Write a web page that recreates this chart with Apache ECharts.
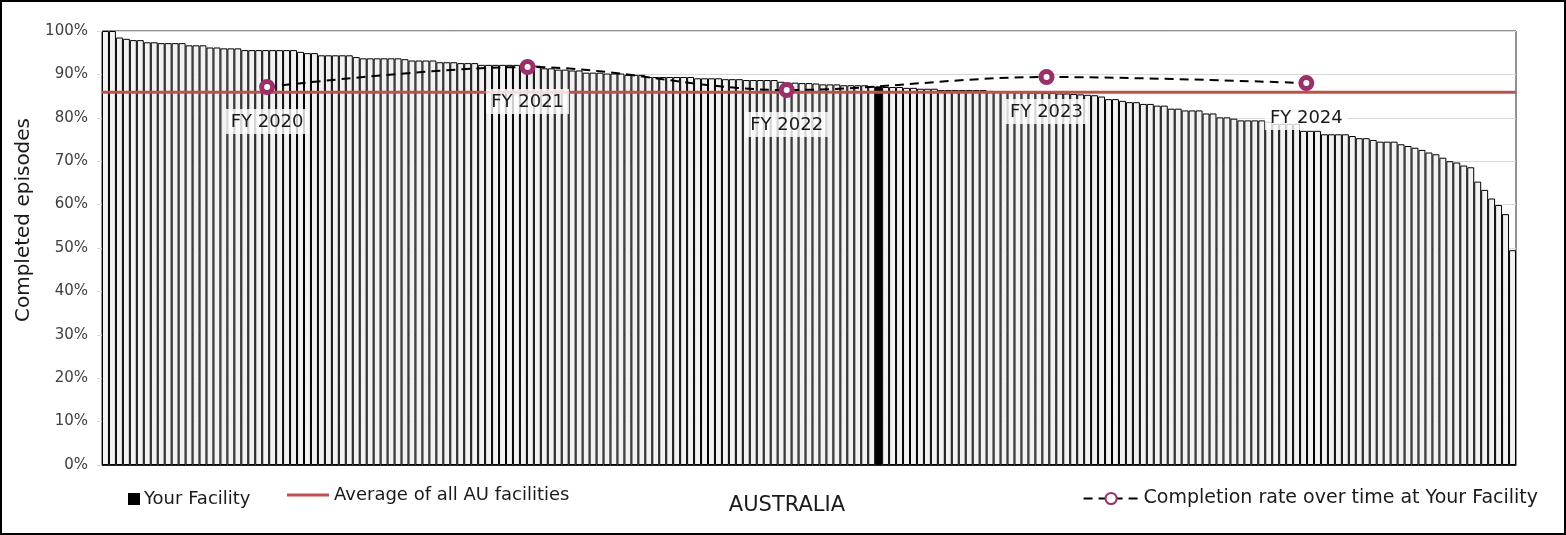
<!DOCTYPE html>
<html>
<head>
<meta charset="utf-8">
<script src="https://cdn.jsdelivr.net/npm/echarts@6/dist/echarts.min.js"></script>
<style>
html,body{margin:0;padding:0;background:#fff;}
#wrap{width:1566px;height:535px;box-sizing:border-box;border:2px solid #000;position:relative;}
#chart{position:absolute;left:-2px;top:-2px;width:1566px;height:535px;}
</style>
</head>
<body>
<div id="wrap"><div id="chart"></div></div>
<script>
// Completion rate of each AU facility (sorted, %)
const facilityRates = [
  100, 100, 98.5, 98.2, 97.9, 97.9, 97.4, 97.4, 97.2, 97.2, 97.2, 97.2,
  96.7, 96.7, 96.7, 96.2, 96.2, 96.0, 96.0, 96.0,
  95.6, 95.6, 95.6, 95.6, 95.6, 95.6, 95.6, 95.6, 95.2, 94.9, 94.9,
  94.4, 94.4, 94.4, 94.4, 94.4, 94.0, 93.7, 93.7, 93.7, 93.7, 93.7, 93.7,
  93.5, 93.2, 93.2, 93.2, 93.2, 92.8, 92.8, 92.8, 92.6, 92.6, 92.6,
  92.2, 92.2, 92.2, 92.2, 92.2, 92.2, 92.0, 92.0, 92.0, 91.4, 91.4,
  91.1, 91.1, 90.9, 90.9, 90.4, 90.4, 90.4, 90.2, 90.2, 90.2, 89.9, 89.9, 89.9,
  89.4, 89.4, 89.4, 89.4, 89.4, 89.4, 89.4,
  89.1, 89.1, 89.1, 89.1, 88.9, 88.9, 88.9, 88.7, 88.7, 88.7, 88.7, 88.7,
  88.3, 88.1, 88.1, 88.0, 88.0, 87.9, 87.7, 87.7, 87.7, 87.5, 87.5, 87.5, 87.5,
  87.3, 87.2, 87.1, 87.1, 87.1, 86.9, 86.9, 86.7, 86.7, 86.7,
  86.4, 86.4, 86.4, 86.4, 86.4, 86.4, 86.4,
  86.2, 86.1, 86.0, 86.0, 85.9, 85.9, 85.8, 85.8, 85.7, 85.7, 85.6, 85.6, 85.5, 85.4, 85.3, 85.2,
  84.9, 84.3, 84.3, 83.9, 83.6, 83.6, 83.2, 83.2, 82.8, 82.8, 82.1, 82.1,
  81.7, 81.7, 81.7, 81.0, 81.0, 80.1, 80.1, 79.8, 79.4, 79.4, 79.4, 79.4, 79.1,
  78.6, 78.6, 78.6, 78.6, 77.0, 77.0, 77.0, 76.2, 76.2, 76.2, 76.2, 75.8,
  75.3, 75.3, 74.9, 74.5, 74.5, 74.5, 73.9, 73.5, 73.1, 72.6, 72.0, 71.6,
  70.8, 70.0, 69.7, 69.0, 68.6, 65.3, 63.4, 61.4, 59.9, 57.8, 49.5
];
const yourFacilityIndex = 111;
const averageAllAU = 85.9;

// Completion rate over time at Your Facility
const yearLabels = ['FY 2020', 'FY 2021', 'FY 2022', 'FY 2023', 'FY 2024'];
const yearRates = [87.1, 91.7, 86.4, 89.4, 88.0];
// position of each year along the facility-rank axis
const yearRankPos = [23.7, 61.1, 98.3, 135.6, 172.9];

const yTicks = [0, 10, 20, 30, 40, 50, 60, 70, 80, 90, 100];

const FONT = '"DejaVu Sans", Lato, sans-serif';
const n = facilityRates.length;
const cats = facilityRates.map((_, i) => 'F' + (i + 1));

const chart = echarts.init(document.getElementById('chart'));
chart.setOption({
  animation: false,
  textStyle: {fontFamily: FONT},
  grid: {left: 102, right: 50, top: 31, bottom: 70, show: true, borderColor: '#222', borderWidth: 1, backgroundColor: 'transparent'},
  xAxis: [
    {
      type: 'category', data: cats, boundaryGap: true,
      axisLabel: {show: false}, axisTick: {show: false},
      axisLine: {show: true, lineStyle: {color: '#222', width: 1}},
      name: 'AUSTRALIA', nameLocation: 'middle', nameGap: 30,
      nameTextStyle: {fontSize: 21, color: '#1a1a1a', fontFamily: FONT, padding: [0, 44, 0, 0]}
    },
    {
      type: 'value', min: 0, max: n, show: false
    }
  ],
  yAxis: {
    type: 'value', min: yTicks[0], max: yTicks[yTicks.length - 1], interval: 10,
    axisLabel: {formatter: '{value}%', fontSize: 15, color: '#404040', margin: 14, fontFamily: FONT},
    axisTick: {show: true, length: 5, lineStyle: {color: '#d9d9d9'}},
    axisLine: {show: false},
    splitLine: {lineStyle: {color: '#d9d9d9', width: 1}},
    name: 'Completed episodes', nameLocation: 'middle', nameGap: 68, nameRotate: 90,
    nameTextStyle: {fontSize: 20, color: '#1a1a1a', fontFamily: FONT, padding: [0, 0, 0, 56]}
  },
  legend: [
    {
      data: [{name: 'Your Facility', icon: 'rect'}],
      left: 128, top: 490, padding: 0, itemWidth: 10, itemHeight: 10,
      textStyle: {fontSize: 18, color: '#1a1a1a', fontFamily: FONT}
    },
    {
      data: [{name: 'Average of all AU facilities', icon: 'rect'}],
      left: 287, top: 486, padding: 0, itemWidth: 42, itemHeight: 3,
      textStyle: {fontSize: 18, color: '#1a1a1a', fontFamily: FONT}
    },
    {
      data: ['Completion rate over time at Your Facility'],
      right: 28, top: 489, padding: 0, itemWidth: 55, itemHeight: 14,
      textStyle: {fontSize: 19, color: '#1a1a1a', fontFamily: FONT}
    }
  ],
  series: [
    {
      name: 'All facilities', type: 'bar', xAxisIndex: 0,
      data: facilityRates, barCategoryGap: 0, barGap: '-100%',
      itemStyle: {color: '#f2f2f2', borderColor: '#000', borderWidth: 1},
      z: 1
    },
    {
      name: 'Your Facility', type: 'bar', xAxisIndex: 0,
      data: facilityRates.map((v, i) => i === yourFacilityIndex ? v : '-'),
      barCategoryGap: 0, barGap: '-100%',
      itemStyle: {color: '#000', borderColor: '#000', borderWidth: 1},
      z: 2
    },
    {
      name: 'Average of all AU facilities', type: 'line', xAxisIndex: 1,
      data: [[0, averageAllAU], [n, averageAllAU]],
      symbol: 'none', lineStyle: {color: '#c0504d', width: 3},
      itemStyle: {color: '#c0504d'}, z: 3
    },
    {
      name: 'Completion rate over time at Your Facility', type: 'line', xAxisIndex: 1,
      data: yearRates.map((v, i) => [yearRankPos[i], v, yearLabels[i]]),
      smooth: 0.35,
      symbol: 'circle', symbolSize: 11, showSymbol: true,
      lineStyle: {color: '#000', width: 2, type: [9, 6]},
      itemStyle: {color: '#fff', borderColor: '#9b3068', borderWidth: 5},
      label: {
        show: true, position: 'bottom', distance: 14,
        formatter: p => p.data[2],
        fontSize: 18, color: '#1a1a1a', fontFamily: FONT,
        backgroundColor: 'rgba(255,255,255,0.8)', padding: [4, 5, 3, 5]
      },
      z: 4
    }
  ]
});
</script>
</body>
</html>
